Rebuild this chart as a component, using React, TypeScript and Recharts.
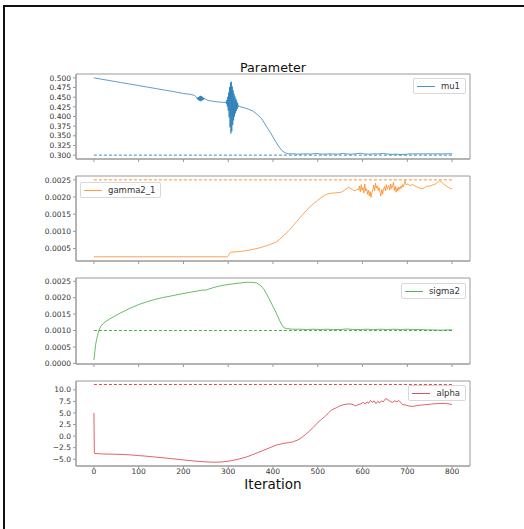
import { LineChart, Line, XAxis, YAxis, ReferenceLine, ReferenceArea } from 'recharts';

// [iteration, value]
const mu1: [number, number][] = [
  [0, 0.5], [20, 0.496], [40, 0.492], [60, 0.488], [80, 0.484], [100, 0.48], [120, 0.476], [140, 0.472],
  [160, 0.468], [180, 0.464], [200, 0.4595], [215, 0.4575], [225, 0.4545], [229, 0.4495], [230, 0.448],
  [231, 0.4445], [232, 0.449], [233, 0.443], [234, 0.4505], [235, 0.4415], [236, 0.452], [237, 0.44],
  [238, 0.4535], [239, 0.4395], [240, 0.4525], [241, 0.441], [242, 0.451], [243, 0.4425], [244, 0.449],
  [245, 0.444], [246, 0.4475], [248, 0.4455], [255, 0.4415], [265, 0.4395], [275, 0.438], [285, 0.437],
  [294, 0.4365], [295, 0.438], [296, 0.433], [297, 0.443], [298, 0.426], [299, 0.451], [300, 0.415],
  [301, 0.462], [302, 0.398], [303, 0.476], [304, 0.372], [305, 0.488], [306, 0.356], [307, 0.49],
  [308, 0.362], [309, 0.478], [310, 0.378], [311, 0.468], [312, 0.39], [313, 0.459], [314, 0.4],
  [315, 0.452], [316, 0.408], [317, 0.446], [318, 0.414], [319, 0.441], [320, 0.419], [321, 0.435],
  [322, 0.424], [324, 0.428], [326, 0.4255], [335, 0.423], [345, 0.419], [355, 0.414], [365, 0.405],
  [375, 0.394], [385, 0.375], [395, 0.357], [405, 0.337], [413, 0.322], [420, 0.312], [427, 0.306],
  [434, 0.3035], [445, 0.3035], [455, 0.3025], [465, 0.303], [475, 0.3035], [485, 0.3025], [495, 0.3045],
  [505, 0.303], [515, 0.3025], [525, 0.3035], [535, 0.303], [545, 0.3025], [555, 0.3045], [565, 0.303],
  [575, 0.3025], [585, 0.3035], [595, 0.305], [605, 0.303], [615, 0.3025], [625, 0.3035], [635, 0.303],
  [645, 0.3045], [655, 0.303], [665, 0.302], [675, 0.3025], [685, 0.3015], [695, 0.302], [705, 0.3035],
  [715, 0.303], [725, 0.3035], [735, 0.303], [745, 0.3035], [755, 0.303], [765, 0.3035], [775, 0.303],
  [785, 0.3035], [800, 0.3035],
];

const gamma2_1: [number, number][] = [
  [0, 0.00026], [100, 0.00026], [200, 0.00026], [298, 0.00026], [300, 0.00029], [303, 0.00036],
  [306, 0.00039], [310, 0.0004], [320, 0.000405], [330, 0.00042], [340, 0.00044], [350, 0.00046],
  [360, 0.00049], [370, 0.00052], [380, 0.00056], [390, 0.0006], [400, 0.00065], [407, 0.00069],
  [415, 0.00077], [426, 0.0009], [435, 0.00102], [444, 0.00115], [453, 0.00129], [463, 0.00144],
  [472, 0.00157], [481, 0.0017], [490, 0.0018], [500, 0.00191], [508, 0.00199], [515, 0.00205],
  [522, 0.00209], [530, 0.00211], [540, 0.00212], [552, 0.00214], [560, 0.0022], [568, 0.00228],
  [572, 0.00226], [578, 0.00221], [583, 0.00218], [588, 0.00222], [591, 0.0022],
  [593, 0.00232], [595, 0.00215], [597, 0.00236], [599, 0.0022], [601, 0.00228], [603, 0.00212],
  [605, 0.00238], [607, 0.00218], [609, 0.00224], [611, 0.00208], [613, 0.0022], [615, 0.00203],
  [617, 0.00216], [619, 0.00199], [621, 0.00212], [623, 0.00222], [625, 0.00235], [627, 0.00218],
  [629, 0.0024], [631, 0.00226], [633, 0.00232], [635, 0.00219], [637, 0.00227], [639, 0.00214],
  [641, 0.00203], [643, 0.00222], [645, 0.00209], [647, 0.00224], [649, 0.0023], [651, 0.00218],
  [653, 0.00236], [655, 0.00222], [657, 0.00228], [659, 0.00233], [661, 0.0022], [663, 0.00238],
  [665, 0.00225], [667, 0.00232], [669, 0.00242], [671, 0.00219], [673, 0.00231], [675, 0.00214],
  [677, 0.00227], [679, 0.00218], [681, 0.00229], [683, 0.00222], [685, 0.00232], [687, 0.00225],
  [689, 0.00236], [691, 0.00229], [693, 0.00239], [695, 0.00248], [697, 0.00236],
  [702, 0.00238], [706, 0.00232], [711, 0.00237], [716, 0.00233], [722, 0.00229], [728, 0.00226],
  [733, 0.00224], [738, 0.00227], [743, 0.00231], [748, 0.00232], [753, 0.00233], [758, 0.00236],
  [763, 0.00238], [768, 0.00243], [772, 0.00247], [776, 0.00244], [781, 0.00238], [786, 0.00233],
  [792, 0.00228], [800, 0.00223],
];

const sigma2: [number, number][] = [
  [0, 0.0001], [2, 0.00035], [4, 0.00058], [6, 0.00072], [8, 0.00085], [11, 0.001], [15, 0.00112],
  [20, 0.0012], [26, 0.00127], [35, 0.00135], [44, 0.00142], [60, 0.00154], [81, 0.00168],
  [100, 0.00179], [119, 0.00188], [137, 0.00195], [156, 0.00201], [175, 0.00206], [193, 0.00211],
  [212, 0.00216], [230, 0.0022], [241, 0.00223], [250, 0.00223], [267, 0.00231], [285, 0.00237],
  [304, 0.00241], [322, 0.00244], [341, 0.00247], [352, 0.00247], [363, 0.00245], [372, 0.00238],
  [380, 0.00225], [385, 0.00213], [392, 0.00195], [400, 0.00173], [405, 0.0016], [411, 0.00142],
  [416, 0.00127], [422, 0.00112], [426, 0.00108], [430, 0.00106], [444, 0.00104], [460, 0.00104],
  [475, 0.00103], [490, 0.00104], [505, 0.00103], [520, 0.00104], [535, 0.00103], [550, 0.00103],
  [565, 0.00105], [580, 0.00103], [595, 0.00103], [610, 0.00104], [625, 0.00103], [640, 0.00104],
  [655, 0.00103], [670, 0.00104], [685, 0.00103], [700, 0.00104], [715, 0.00103], [730, 0.00103],
  [745, 0.00102], [760, 0.00102], [775, 0.00101], [790, 0.00102], [800, 0.00102],
];

const alpha: [number, number][] = [
  [0, 5.0], [1, -3.5], [2, -3.75], [10, -3.8], [20, -3.85], [44, -3.9], [60, -3.95], [81, -4.05],
  [100, -4.2], [119, -4.35], [137, -4.52], [156, -4.7], [175, -4.88], [193, -5.07], [212, -5.25],
  [230, -5.43], [250, -5.56], [267, -5.63], [285, -5.58], [304, -5.37], [322, -5.0], [341, -4.5],
  [360, -3.8], [378, -3.1], [393, -2.5], [407, -1.95], [422, -1.6], [435, -1.4], [444, -1.25],
  [455, -0.85], [463, -0.39], [472, 0.3], [481, 1.06], [490, 1.9], [500, 2.94], [508, 3.6],
  [515, 4.16], [523, 4.9], [530, 5.6], [541, 6.1], [549, 6.5], [556, 6.75], [565, 6.9], [574, 6.95],
  [580, 6.75], [585, 6.5], [590, 6.8], [596, 6.95], [602, 7.3], [606, 6.9], [610, 7.4], [614, 7.1],
  [618, 7.7], [622, 7.3], [626, 7.6], [630, 7.0], [634, 7.5], [638, 7.2], [642, 7.6], [646, 7.4],
  [652, 8.15], [657, 7.8], [662, 7.5], [667, 7.3], [672, 7.6], [677, 7.4], [681, 7.7], [685, 7.3],
  [689, 6.8], [695, 6.75], [702, 6.55], [711, 6.4], [720, 6.55], [730, 6.7], [741, 6.8], [752, 6.9],
  [763, 7.0], [775, 7.05], [785, 7.05], [800, 6.85],
];

// true values (dashed lines)
const truths = { mu1: 0.3, gamma2_1: 0.0025, sigma2: 0.001, alpha: 11.15 };

const xTicks = [0, 100, 200, 300, 400, 500, 600, 700, 800];
const mu1Ticks = [0.3, 0.325, 0.35, 0.375, 0.4, 0.425, 0.45, 0.475, 0.5];
const gammaTicks = [0.0005, 0.001, 0.0015, 0.002, 0.0025];
const sigmaTicks = [0, 0.0005, 0.001, 0.0015, 0.002, 0.0025];
const alphaTicks = [-5, -2.5, 0, 2.5, 5, 7.5, 10];

const W = 524;
const H = 529;
const PLOT_LEFT = 76;
const PLOT_RIGHT = 470;
const PAD = 10;
const FONT = 'DejaVu Sans, sans-serif';
const SPINE = '#9a9a9a';
const TEXT = '#333';
const X_DOMAIN: [number, number] = [-40, 840];

const minus = (s: string) => s.replace('-', '\u2212');

type PanelProps = {
  series: [number, number][];
  name: string;
  color: string;
  truth: number;
  domain: [number, number];
  ticks: number[];
  fmt: (v: number) => string;
  top: number;
  plotH: number;
  showX?: boolean;
  legend: { left?: number; right?: number; top: number };
};

const Panel = ({ series, name, color, truth, domain, ticks, fmt, top, plotH, showX, legend }: PanelProps) => {
  const xh = showX ? 16 : 6;
  const data = series.map(([x, y]) => ({ x, y }));
  return (
    <div style={{ position: 'absolute', left: 0, top: top - PAD }}>
      <LineChart
        width={W}
        height={PAD + plotH + xh}
        margin={{ top: PAD, right: W - PLOT_RIGHT, bottom: 0, left: 0 }}
      >
        <XAxis
          type="number"
          dataKey="x"
          domain={X_DOMAIN}
          ticks={xTicks}
          interval={0}
          allowDataOverflow
          height={xh}
          stroke={SPINE}
          tickSize={3}
          tickMargin={0}
          tick={{ fill: TEXT, fontSize: 7.5, fontFamily: FONT }}
          tickFormatter={(v: number) => (showX ? String(v) : '')}
        />
        <YAxis
          type="number"
          domain={domain}
          ticks={ticks}
          interval={0}
          allowDataOverflow
          width={PLOT_LEFT}
          stroke={SPINE}
          tickSize={3}
          tickMargin={2}
          tick={{ fill: TEXT, fontSize: 7.5, fontFamily: FONT }}
          tickFormatter={fmt}
        />
        <ReferenceArea x1={X_DOMAIN[0]} x2={X_DOMAIN[1]} y1={domain[0]} y2={domain[1]} fill="none" stroke={SPINE} strokeWidth={1} />
        <ReferenceLine
          segment={[{ x: 0, y: truth }, { x: 800, y: truth }]}
          stroke={color}
          strokeOpacity={0.85}
          strokeDasharray="3 2"
          strokeWidth={1}
        />
        <Line data={data} dataKey="y" name={name} stroke={color} strokeOpacity={0.8} strokeWidth={0.9} dot={false} isAnimationActive={false} />
      </LineChart>
      <div
        style={{
          position: 'absolute',
          top: legend.top - top + PAD,
          left: legend.left,
          right: legend.right,
          height: 14,
          padding: '0 5px 0 3px',
          border: '1px solid #d8d8d8',
          borderRadius: 2,
          background: 'rgba(255,255,255,0.85)',
          display: 'flex',
          alignItems: 'center',
          fontFamily: FONT,
          fontSize: 8.5,
          color: TEXT,
          whiteSpace: 'nowrap',
        }}
      >
        <span style={{ display: 'inline-block', width: 18, height: 0, borderTop: `1px solid ${color}`, opacity: 0.8, marginRight: 6 }} />
        {name}
      </div>
    </div>
  );
};

export default function App() {
  return (
    <div style={{ position: 'absolute', left: 0, top: 0, width: W, height: H, background: '#fff', overflow: 'hidden' }}>
      <div style={{ position: 'absolute', left: 3, top: 5, width: W, height: H, borderLeft: '2px solid #111', borderTop: '2px solid #111' }} />
      <div style={{ position: 'absolute', left: 173, width: 200, top: 60, textAlign: 'center', fontFamily: FONT, fontSize: 12.7, lineHeight: '15px', color: '#111' }}>
        Parameter
      </div>
      <Panel
        series={mu1}
        name="mu1"
        color="#1f77b4"
        truth={truths.mu1}
        domain={[0.29, 0.51]}
        ticks={mu1Ticks}
        fmt={(v) => v.toFixed(3)}
        top={74}
        plotH={85}
        legend={{ right: W - 466, top: 78 }}
      />
      <Panel
        series={gamma2_1}
        name="gamma2_1"
        color="#ff7f0e"
        truth={truths.gamma2_1}
        domain={[0.000137, 0.002612]}
        ticks={gammaTicks}
        fmt={(v) => v.toFixed(4)}
        top={176}
        plotH={85}
        legend={{ left: 80, top: 182 }}
      />
      <Panel
        series={sigma2}
        name="sigma2"
        color="#2ca02c"
        truth={truths.sigma2}
        domain={[-0.00002, 0.0026]}
        ticks={sigmaTicks}
        fmt={(v) => v.toFixed(4)}
        top={278}
        plotH={86}
        legend={{ right: W - 466, top: 283 }}
      />
      <Panel
        series={alpha}
        name="alpha"
        color="#d62728"
        truth={truths.alpha}
        domain={[-6.45, 11.9]}
        ticks={alphaTicks}
        fmt={(v) => minus(v.toFixed(1))}
        top={381}
        plotH={85}
        showX
        legend={{ right: W - 466, top: 385 }}
      />
      <div style={{ position: 'absolute', left: 173, width: 200, top: 478, textAlign: 'center', fontFamily: FONT, fontSize: 13.5, lineHeight: '13px', color: '#111' }}>
        Iteration
      </div>
    </div>
  );
}
